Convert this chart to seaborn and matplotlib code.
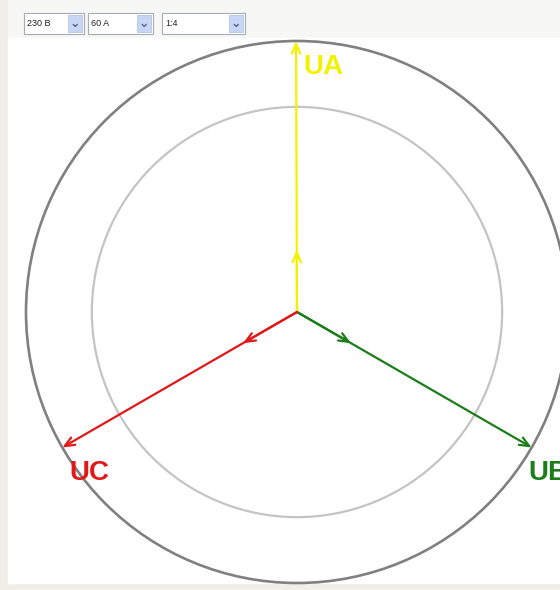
import numpy as np
import pandas as pd
import matplotlib
matplotlib.use("Agg")
import matplotlib.pyplot as plt
import matplotlib.patches as mpatches
import seaborn as sns

# Phasor data (magnitudes relative to the outer circle)
phasor_names = ["UA", "UB", "UC"]
phasor_angles = [90.2, -30.0, 210.0]  # degrees
phasor_mags = [1.0, 1.0, 1.0]
phasor_colors = ["#f2f200", "#1a7d1a", "#e01818"]
label_offsets = [(7, -13), (-3, -13), (7, -13)]  # pixels from the tip

circle_radii = [1.0, 0.757]
circle_colors = ["#808080", "#c4c4c4"]

# dropdown controls on top of the diagram
dropdown_texts = ["230 В", "60 A", "1:4"]
dropdown_left = [24, 88, 162]
dropdown_right = [84, 153, 245]

W, H = 560, 590
cx, cy, R = 297, 312, 271  # centre and scale in pixels

sns.set_style("white")
plt.rcParams["font.family"] = ["Liberation Sans", "DejaVu Sans"]

fig = plt.figure(figsize=(W / 100, H / 100), dpi=100)
fig.patch.set_facecolor("#efefe7")

# top toolbar band and white drawing panel (behind the axes)
fig.patches.append(mpatches.Rectangle((8 / W, 1 - 38 / H), 1, 38 / H,
                                      transform=fig.transFigure, color="#f7f7f5", zorder=-2))
fig.patches.append(mpatches.Rectangle((8 / W, 1 - 583 / H), 1, (583 - 38) / H,
                                      transform=fig.transFigure, color="white", zorder=-2))

ax = fig.add_axes([0, 0, 1, 1])
ax.set_facecolor("none")
ax.patch.set_alpha(0)
ax.set_xlim(-cx / R, (W - cx) / R)
ax.set_ylim(-(H - cy) / R, cy / R)
ax.axis("off")

for r, c, lw in zip(circle_radii, circle_colors, [1.9, 1.6]):
    ax.add_patch(mpatches.Circle((0, 0), r, fill=False, edgecolor=c, linewidth=lw, zorder=1))

df = pd.DataFrame({"name": phasor_names, "angle": phasor_angles, "mag": phasor_mags,
                   "color": phasor_colors})
df["x"] = df["mag"] * np.cos(np.radians(df["angle"]))
df["y"] = df["mag"] * np.sin(np.radians(df["angle"]))

for _, row in df.iterrows():
    props = dict(arrowstyle="->,head_length=0.7,head_width=0.3", color=row["color"],
                 lw=1.6, shrinkA=0, shrinkB=0)
    ax.annotate("", xy=(row["x"], row["y"]), xytext=(0, 0), arrowprops=props, zorder=3)
    ax.annotate("", xy=(0.23 * row["x"], 0.23 * row["y"]), xytext=(0, 0),
                arrowprops=props, zorder=3)

for (_, row), off in zip(df.iterrows(), label_offsets):
    ax.annotate(row["name"], xy=(row["x"], row["y"]), xytext=off,
                textcoords="offset pixels", ha="left", va="top",
                fontsize=20, fontweight="bold", color=row["color"], zorder=4)

# dropdowns
for txt, x0, x1 in zip(dropdown_texts, dropdown_left, dropdown_right):
    y0, y1 = 13, 34
    fig.patches.append(mpatches.Rectangle((x0 / W, 1 - y1 / H), (x1 - x0) / W, (y1 - y0) / H,
                                          transform=fig.transFigure, facecolor="white",
                                          edgecolor="#a5acb5", lw=0.8, zorder=5))
    fig.patches.append(mpatches.Rectangle(((x1 - 16) / W, 1 - (y1 - 2) / H), 14 / W,
                                          (y1 - y0 - 4) / H, transform=fig.transFigure,
                                          facecolor="#c6d6f4", edgecolor="#b4c6ec",
                                          lw=0.6, zorder=6))
    fig.text((x1 - 9) / W, 1 - (y0 + y1) / 2 / H, "⌄", ha="center", va="center",
             fontsize=9, color="#4d6185", fontweight="bold", zorder=7,
             family=["DejaVu Sans"])
    fig.text((x0 + 3) / W, 1 - (y0 + y1) / 2 / H, txt, ha="left", va="center",
             fontsize=6.5, color="#202020", zorder=7)

fig.savefig("out.png", dpi=100)
